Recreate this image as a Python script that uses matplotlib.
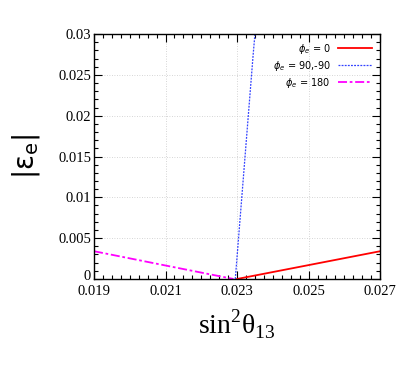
import matplotlib
matplotlib.use("Agg")
import matplotlib.pyplot as plt
import matplotlib.transforms as mtransforms
from matplotlib.ticker import MultipleLocator

# phi_e = 0
x_red = [0.0230, 0.0250, 0.0270]
y_red = [0.0, 0.00170, 0.00340]
# phi_e = 90,-90
x_blue = [0.02295, 0.02305, 0.02315, 0.02325, 0.02335, 0.02345, 0.02350]
y_blue = [0.0, 0.0055, 0.0110, 0.0165, 0.0220, 0.0275, 0.0300]
# phi_e = 180
x_mag = [0.0190, 0.0210, 0.02290]
y_mag = [0.00340, 0.00165, 0.0]

xticks = [0.019, 0.021, 0.023, 0.025, 0.027]
xlabels = ["0.019", "0.021", "0.023", "0.025", "0.027"]
yticks = [0, 0.005, 0.01, 0.015, 0.02, 0.025, 0.03]
ylabels = ["0", "0.005", "0.01", "0.015", "0.02", "0.025", "0.03"]

fig = plt.figure(figsize=(4.07, 3.70), dpi=100)
ax = fig.add_axes([0.231, 0.246, 0.703, 0.662])

ax.plot(x_red, y_red, color="red", lw=1.3, label=r"$\phi_e$ = 0")
ax.plot(x_blue, y_blue, color="#3040ff", lw=0.9, ls=(0, (1.5, 1)), label=r"$\phi_e$ = 90,-90")
ax.plot(x_mag, y_mag, color="magenta", lw=1.3, ls=(0, (5, 1.5, 1.5, 1.5)), label=r"$\phi_e$ = 180")

ax.set_xlim(0.019, 0.027)
ax.set_ylim(0, 0.03)
ax.set_xticks(xticks)
ax.set_xticklabels(xlabels, family="Liberation Serif", fontsize=10.5)
ax.set_yticks(yticks)
ax.set_yticklabels(ylabels, family="Liberation Serif", fontsize=10.5)
ax.xaxis.set_minor_locator(MultipleLocator(0.00025))
ax.yaxis.set_minor_locator(MultipleLocator(0.001))
ax.tick_params(which="both", direction="in", top=True, right=True, width=0.8)
ax.tick_params(axis="x", which="major", length=6, pad=4)
ax.tick_params(axis="y", which="major", length=6, pad=2)
ax.tick_params(which="minor", length=3)
ax.grid(True, which="major", color="#c8c8c8", ls=(0, (1, 2)), lw=0.6)
for s in ax.spines.values():
    s.set_linewidth(1.0)

# lift the "0" label a touch so it doesn't sit on top of 0.019
zero = ax.get_yticklabels()[0]
zero.set_transform(zero.get_transform() + mtransforms.ScaledTranslation(0, 3 / 72, fig.dpi_scale_trans))

ax.set_xlabel("sin$^\\mathregular{2}$θ$_\\mathregular{13}$", family="Liberation Serif",
              fontsize=20, labelpad=7)
ax.set_ylabel("|ε$_\\mathregular{e}$|", fontsize=20, labelpad=12)

ax.legend(loc="upper right", frameon=False, markerfirst=False, fontsize=7,
          handlelength=3.5, labelspacing=0.3, borderaxespad=0.4)

fig.savefig("out.png", dpi=100)
